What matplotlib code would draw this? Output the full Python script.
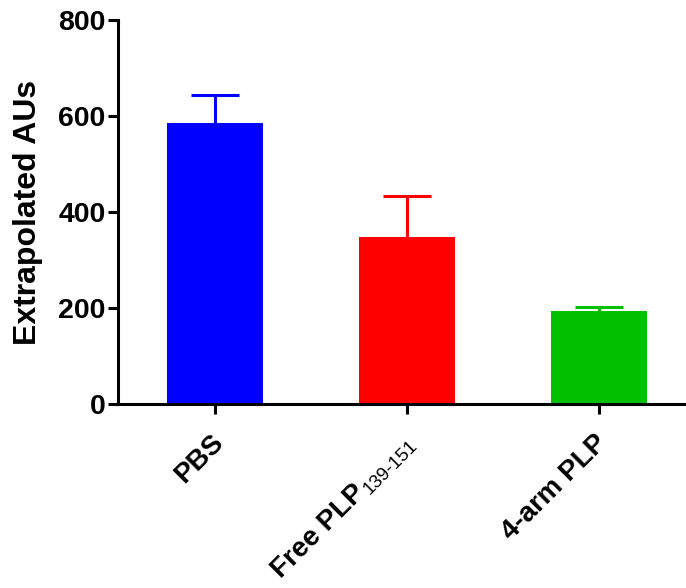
import matplotlib
matplotlib.use("Agg")
import matplotlib.pyplot as plt
from matplotlib.transforms import offset_copy

plt.rcParams['font.family'] = ['Liberation Sans', 'DejaVu Sans']

groups = ["PBS", "Free PLP", "4-arm PLP"]
subscripts = ["", "139-151", ""]
means = [585, 347, 194]
sem_upper = [58, 87, 9]
colors = ["#0000FF", "#FF0000", "#00C000"]
yticks = [0, 200, 400, 600, 800]

fig = plt.figure(figsize=(6.86, 5.88), dpi=100)
ax = fig.add_axes([0.172, 0.3129, 0.8265, 0.6531])

x = list(range(len(groups)))
ax.bar(x, means, width=0.5, color=colors, zorder=2)
for xi, m, e, c in zip(x, means, sem_upper, colors):
    eb = ax.errorbar(xi, m, yerr=[[0], [e]], fmt='none', ecolor=c,
                     elinewidth=2.2, capsize=17.3, capthick=2.2, zorder=1)
    # keep only the upper cap
    for cap in eb.lines[1]:
        if cap.get_ydata()[0] <= m:
            cap.remove()

ax.set_xlim(-0.507, 2.45)
ax.set_ylim(0, 800)
ax.set_yticks(yticks)
ax.set_yticklabels([str(v) for v in yticks], fontsize=20.5, fontweight='bold')
ax.set_xticks(x)
ax.set_xticklabels([])

for side in ("top", "right"):
    ax.spines[side].set_visible(False)
for side in ("left", "bottom"):
    ax.spines[side].set_linewidth(2.2)
ax.tick_params(axis='both', width=2.2, length=7)
ax.tick_params(axis='y', pad=2)

ax.set_ylabel("Extrapolated AUs", fontsize=23, fontweight='bold', labelpad=11)

# rotated category labels (baseline-right anchored), plain subscript where present
renderer = fig.canvas.get_renderer()
trans = ax.get_xaxis_transform()
base_dx, base_dy = 6.5, -28.8
sub_size, sub_drop, sub_gap = 13.5, 2.5, 1.0
r2 = 2 ** 0.5
for xi, name, sub in zip(x, groups, subscripts):
    dx, dy = base_dx, base_dy
    if sub:
        ax.text(xi, 0, sub, fontsize=sub_size, rotation=45,
                rotation_mode='anchor', ha='right', va='baseline',
                transform=offset_copy(trans, fig=fig, x=dx + sub_drop / r2,
                                      y=dy - sub_drop / r2, units='points'))
        tmp = fig.text(0, 0, sub, fontsize=sub_size)
        w = tmp.get_window_extent(renderer).width * 72 / fig.dpi
        tmp.remove()
        dx -= (w + sub_gap) / r2
        dy -= (w + sub_gap) / r2
    ax.text(xi, 0, name, fontsize=20, fontweight='bold', rotation=45,
            rotation_mode='anchor', ha='right', va='baseline',
            transform=offset_copy(trans, fig=fig, x=dx, y=dy, units='points'))

fig.savefig("out.png", dpi=100)
